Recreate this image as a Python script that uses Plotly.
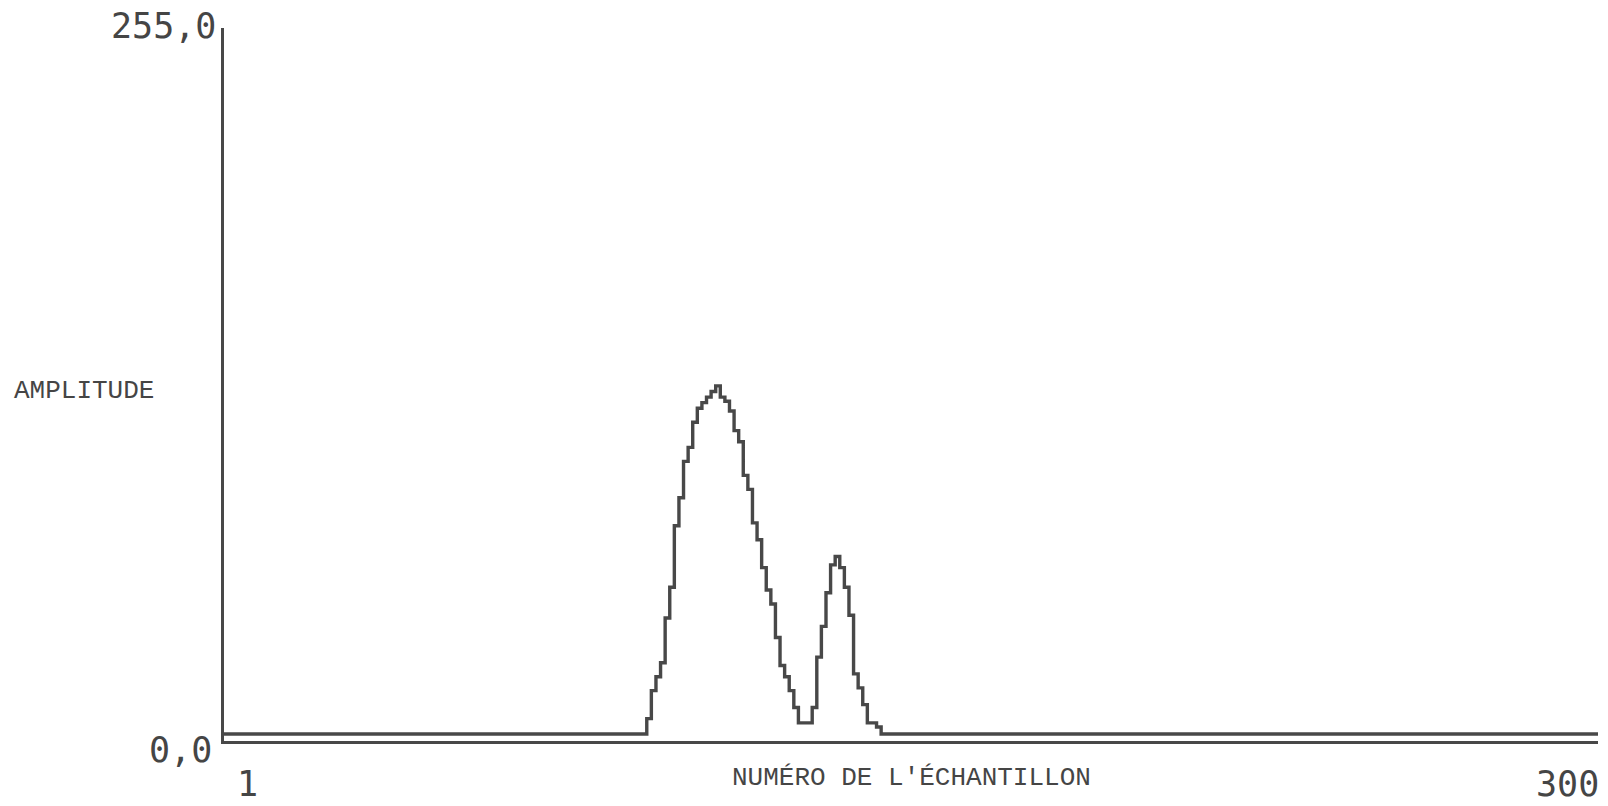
import plotly.graph_objects as go

# ---- data ----
N_SAMPLES = 300
BASELINE = 2.5
PEAK_START = 93
PEAK_VALUES = [8, 18, 23, 28, 44, 55, 77, 87, 100, 105, 114, 119, 121, 123, 125, 127,
               123, 121.5, 118, 111, 107, 95, 90, 78, 72, 62, 54, 49, 37, 27, 23, 18, 12,
               6.5, 6.5, 6.5, 12, 30, 41, 53, 63, 66, 62, 55, 45, 24, 19, 13, 6.5, 6.5, 5]

Y_TICK_LABELS = ["0,0", "255,0"]
X_TICK_LABELS = ["1", "300"]
Y_TITLE = "AMPLITUDE"
X_TITLE = "NUMÉRO DE L'ÉCHANTILLON"

samples = list(range(1, N_SAMPLES + 1))
amplitude = ([BASELINE] * (PEAK_START - 1) + PEAK_VALUES
             + [BASELINE] * (N_SAMPLES - (PEAK_START - 1) - len(PEAK_VALUES)))

# ---- layout geometry ----
W, H = 1608, 806
L, R, T, B = 223.5, 1598, 28, 741.5
PW, PH = R - L, B - T

def px(x):
    return (x - L) / PW

def py(y):
    return (B - y) / PH

LINE_COL = "#484848"
TEXT_COL = "#454545"
TICK_FONT = dict(family="DejaVu Sans Mono", size=35, color=TEXT_COL)
LABEL_FONT = dict(family="Liberation Mono", size=26, color=TEXT_COL)

fig = go.Figure()
fig.add_trace(go.Scatter(
    x=samples, y=amplitude, mode="lines",
    line=dict(shape="hv", color=LINE_COL, width=3.4),
    hoverinfo="skip", showlegend=False,
))

annotations = [
    dict(text=Y_TICK_LABELS[1], x=px(217), y=py(26), xanchor="right", yanchor="middle", font=TICK_FONT),
    dict(text=Y_TICK_LABELS[0], x=px(213), y=py(751), xanchor="right", yanchor="middle", font=TICK_FONT),
    dict(text=X_TICK_LABELS[0], x=px(247), y=py(785), xanchor="center", yanchor="middle", font=TICK_FONT),
    dict(text=X_TICK_LABELS[1], x=px(1601), y=py(785), xanchor="right", yanchor="middle", font=TICK_FONT),
    dict(text=Y_TITLE, x=px(11), y=py(391), xanchor="left", yanchor="middle", font=LABEL_FONT),
    dict(text=X_TITLE, x=px(911), y=py(779), xanchor="center", yanchor="middle", font=LABEL_FONT),
]
for a in annotations:
    a.update(xref="paper", yref="paper", showarrow=False)

fig.update_layout(
    width=W, height=H,
    margin=dict(l=L, r=W - R, t=T, b=H - B, pad=0, autoexpand=False),
    paper_bgcolor="white", plot_bgcolor="white",
    annotations=annotations,
    xaxis=dict(range=[1, N_SAMPLES], showline=True, linewidth=3, linecolor=LINE_COL,
               showgrid=False, zeroline=False, showticklabels=False, ticks=""),
    yaxis=dict(range=[0, 255], showline=True, linewidth=3, linecolor=LINE_COL,
               showgrid=False, zeroline=False, showticklabels=False, ticks=""),
)

fig.write_html("out.html", config={"displayModeBar": False},
               post_script="document.body.style.margin='0';document.body.style.overflow='hidden';")
